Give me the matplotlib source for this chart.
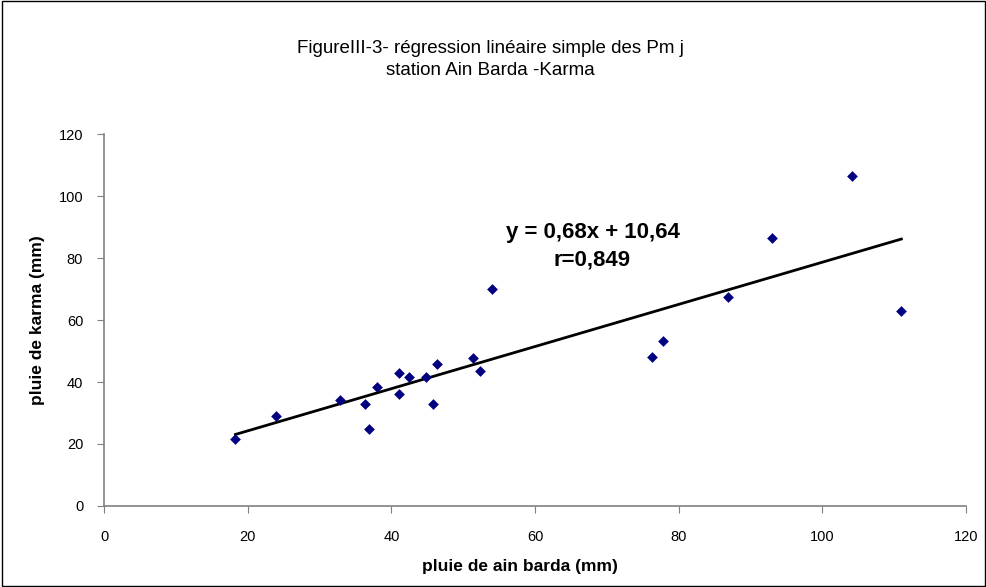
import matplotlib
matplotlib.use("Agg")
import matplotlib.pyplot as plt
from matplotlib.patches import Rectangle

plt.rcParams['font.family'] = ['Liberation Sans', 'DejaVu Sans']

ain_barda = [18.3, 24.0, 32.9, 36.3, 36.9, 38.0, 41.0, 41.0, 42.4, 44.8, 45.8,
             46.4, 51.3, 52.3, 54.0, 76.3, 77.8, 86.9, 93.0, 104.2, 111.0]
karma = [21.5, 29.0, 34.2, 32.8, 24.8, 38.4, 43.0, 36.0, 41.6, 41.6, 32.8,
         45.8, 47.7, 43.5, 69.9, 48.2, 53.2, 67.3, 86.4, 106.5, 63.0]
slope = 0.68
intercept = 10.64
x_ticks = [0, 20, 40, 60, 80, 100, 120]
y_ticks = [0, 20, 40, 60, 80, 100, 120]

fig = plt.figure(figsize=(9.87, 5.87), dpi=100)
fig.patches.append(Rectangle((0.002, 0.002), 0.996, 0.996, transform=fig.transFigure,
                             fill=False, edgecolor='black', linewidth=1))
ax = fig.add_axes([0.1054, 0.138, 0.8733, 0.6337])

ax.scatter(ain_barda, karma, marker='D', s=30, color='#000080', zorder=3, linewidths=0)
xl = [min(ain_barda), max(ain_barda)]
ax.plot(xl, [slope * v + intercept for v in xl], color='black', linewidth=2, zorder=2)

ax.set_xlim(0, 120)
ax.set_ylim(0, 120)
ax.set_xticks(x_ticks)
ax.set_yticks(y_ticks)
ax.tick_params(direction='out', length=5, color='#808080', labelsize=10.5)
ax.tick_params(axis='x', pad=12)
ax.tick_params(axis='y', pad=10)
for s in ['top', 'right']:
    ax.spines[s].set_visible(False)
for s in ['left', 'bottom']:
    ax.spines[s].set_color('#808080')
    ax.spines[s].set_linewidth(1.2)

ax.set_xlabel('pluie de ain barda (mm)', fontsize=12.5, fontweight='bold', labelpad=11)
ax.xaxis.label.set_x(0.483)
ax.set_ylabel('pluie de karma (mm)', fontsize=12.5, fontweight='bold', labelpad=10)

ax.text(68.0, 83.8, 'y = 0,68x + 10,64\nr=0,849', ha='center', va='center',
        fontsize=16, fontweight='bold', linespacing=1.45)

fig.text(0.497, 0.898, 'FigureIII-3- régression linéaire simple des Pm j\nstation Ain Barda -Karma',
         ha='center', va='center', fontsize=13.5, linespacing=1.4)

fig.savefig('out.png', dpi=100)
